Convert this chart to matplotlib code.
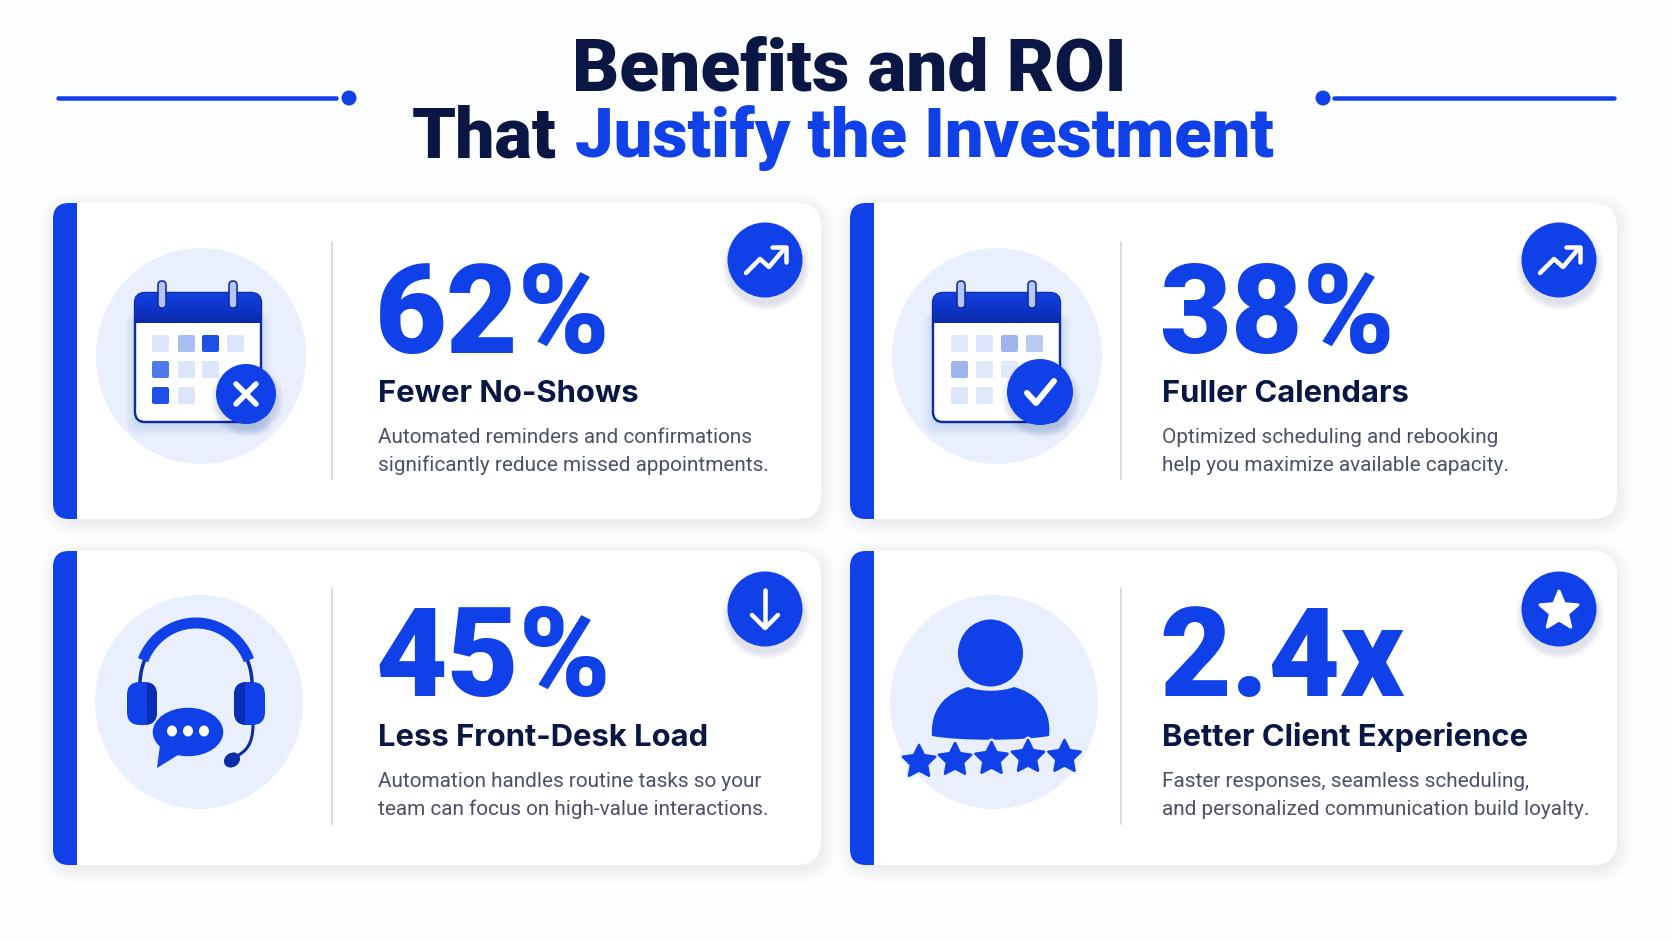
import numpy as np
import matplotlib
matplotlib.use('Agg')
import matplotlib.pyplot as plt
from matplotlib.patches import FancyBboxPatch, Circle, Ellipse, Rectangle, Polygon, PathPatch
from matplotlib.path import Path
from matplotlib.colors import LinearSegmentedColormap

plt.rcParams['font.family'] = ['Inter', 'DejaVu Sans']

# text content
title_line1 = 'Benefits and ROI'
title_line2a = 'That'
title_line2b = 'Justify the Investment'
stat_values = ['62%', '38%', '45%', '2.4x']
stat_titles = ['Fewer No-Shows', 'Fuller Calendars', 'Less Front-Desk Load', 'Better Client Experience']
stat_lines1 = ['Automated reminders and confirmations', 'Optimized scheduling and rebooking',
               'Automation handles routine tasks so your', 'Faster responses, seamless scheduling,']
stat_lines2 = ['significantly reduce missed appointments.', 'help you maximize available capacity.',
               'team can focus on high-value interactions.', 'and personalized communication build loyalty.']

BLUE = '#0F40E8'
DARK = '#0A1744'
GREY = '#4B5264'
PALE = '#E9EFFC'
BG = '#FDFEFF'

W, H = 1672, 941
fig = plt.figure(figsize=(W / 100, H / 100), dpi=100, facecolor=BG)
ax = fig.add_axes([0, 0, 1, 1])
ax.set_xlim(0, W)
ax.set_ylim(H, 0)
ax.axis('off')

head_cmap = LinearSegmentedColormap.from_list('head', ['#1240DC', '#0F36CC', '#0A29A8'])


def px(v):
    # pixels to points
    return v * 0.72


def rbox(x0, y0, x1, y1, r, **kw):
    p = FancyBboxPatch((x0, y0), x1 - x0, y1 - y0, boxstyle='round,pad=0,rounding_size=%g' % r, **kw)
    ax.add_patch(p)
    return p


def star_pts(cx, cy, r, ratio=0.45):
    ang = -np.pi / 2 + np.arange(10) * np.pi / 5
    rad = np.where(np.arange(10) % 2 == 0, r, r * ratio)
    return np.column_stack([cx + rad * np.cos(ang), cy + rad * np.sin(ang)])


def icon_line(pts, lw=4.5, color='white', z=6):
    pts = np.array(pts, dtype=float)
    ax.plot(pts[:, 0], pts[:, 1], color=color, lw=px(lw), solid_capstyle='round',
            solid_joinstyle='round', zorder=z)


def card(x0, y0, x1, y1, bar_w):
    for i in range(16, 0, -1):
        rbox(x0 - i + 2, y0 - i + 5, x1 + i, y1 + i + 3, 24 + i, fc='#33436F', ec='none', alpha=0.004, zorder=1)
    rbox(x0, y0, x1, y1, 24, fc='white', ec='none', zorder=2)
    bar = rbox(x0, y0, x0 + 60, y1, 16, fc=BLUE, ec='none', zorder=3)
    bar.set_clip_path(Rectangle((x0, y0 - 2), bar_w, y1 - y0 + 4, transform=ax.transData))


def badge(cx, cy, r=37.5, z=4):
    for i in range(10, 0, -1):
        ax.add_patch(Circle((cx + 1, cy + 6), r + i * 0.7, fc='#0B2270', ec='none', alpha=0.013, zorder=z))
    ax.add_patch(Circle((cx, cy), r, fc=BLUE, ec='none', zorder=z + 0.5))


def trend_icon(cx, cy):
    icon_line([(cx - 19, cy + 13), (cx - 5, cy - 1), (cx + 4, cy + 7), (cx + 20, cy - 12)])
    icon_line([(cx + 7, cy - 13), (cx + 21, cy - 13), (cx + 21, cy + 2)])


def calendar(x0, x1, y0, y1, head_y, ring_x, col_x, row_y, cell_cols):
    for i in range(12, 0, -1):
        rbox(x0 - i + 2, y0 + 20, x1 + i - 2, y1 + i + 2, 12, fc='#2A50D8', ec='none', alpha=0.012, zorder=3)
    rbox(x0, y0, x1, y1, 10, fc='white', ec='#0E2BA0', lw=px(2.4), zorder=4)
    # header fades darker towards its lower edge
    outline = rbox(x0, y0, x1, y1, 10, fc='none', ec='none', zorder=4)
    for s in range(head_y - y0):
        strip = Rectangle((x0, y0 + s), x1 - x0, 1.5, fc=head_cmap(s / (head_y - y0 - 1)), ec='none', zorder=4.1)
        ax.add_patch(strip)
        strip.set_clip_path(outline)
    for rx in ring_x:
        rbox(rx - 4, y0 - 12, rx + 4, y0 + 15, 4, fc='#B6C6F2', ec='#0E2BA0', lw=px(1.6), zorder=4.4)
    for j, row in enumerate(cell_cols):
        for i, c in enumerate(row):
            rbox(col_x[i], row_y[j], col_x[i] + 17, row_y[j] + 17, 2, fc=c, ec='none', zorder=4.3)


# title
ax.text(849, 90, title_line1, fontsize=px(73), family='Roboto', fontweight=900, color=DARK, ha='center', va='baseline', zorder=5)
ax.text(412, 157, title_line2a, fontsize=px(70), family='Roboto', fontweight=900, color=DARK, ha='left', va='baseline', zorder=5)
ax.text(575, 157, title_line2b, fontsize=px(68.7), family='Roboto', fontweight=900, color=BLUE, ha='left', va='baseline', zorder=5)
ax.plot([58, 336], [98, 98], color=BLUE, lw=px(4.5), solid_capstyle='round', zorder=5)
ax.plot([1334, 1614], [98, 98], color=BLUE, lw=px(4.5), solid_capstyle='round', zorder=5)
ax.add_patch(Circle((349, 98), 7.5, fc=BLUE, ec='none', zorder=5))
ax.add_patch(Circle((1323, 98), 7.5, fc=BLUE, ec='none', zorder=5))

# cards
frames = [(53, 203, 821, 519), (850, 203, 1617, 519), (53, 551, 821, 865), (850, 551, 1617, 865)]
text_x = [378, 1162, 378, 1162]
div_x = [332, 1121, 332, 1121]
div_y = [(242, 479), (242, 479), (589, 824), (589, 824)]
circ = [(201, 356, 105, 108), (997, 356, 105, 108), (199, 702, 104, 107), (994, 702, 104, 107)]
badge_c = [(765, 260), (1559, 260), (765, 609), (1559, 609)]
big_y = [353, 353, 696, 696]
head_y = [402, 402, 746, 746]
body_y = [(443, 471), (443, 471), (787, 815), (787, 815)]

for k in range(4):
    x0, y0, x1, y1 = frames[k]
    card(x0, y0, x1, y1, 24)
    ax.plot([div_x[k]] * 2, div_y[k], color='#CFD2D8', lw=px(1.6), zorder=3)
    ax.add_patch(Ellipse(circ[k][:2], circ[k][2] * 2, circ[k][3] * 2, fc=PALE, ec='none', zorder=3))
    badge(*badge_c[k])
    ax.text(text_x[k] - 3, big_y[k], stat_values[k], fontsize=px(124), family='Roboto', fontweight=900, color=BLUE, va='baseline', zorder=5)
    ax.text(text_x[k], head_y[k], stat_titles[k], fontsize=px(31), fontweight='bold', color=DARK, va='baseline', zorder=5)
    ax.text(text_x[k], body_y[k][0], stat_lines1[k], fontsize=px(20.8), family='Roboto', color=GREY, va='baseline', zorder=5)
    ax.text(text_x[k], body_y[k][1], stat_lines2[k], fontsize=px(20.8), family='Roboto', color=GREY, va='baseline', zorder=5)

# badge glyphs
trend_icon(765, 260)
trend_icon(1559, 260)
icon_line([(765, 590), (765, 627)])
icon_line([(752, 615), (765, 628), (778, 615)])
ax.add_patch(Polygon(star_pts(1559, 611, 20), fc='white', ec='white', lw=px(3), joinstyle='round', zorder=6))

# calendar with cross
c1 = '#DCE5FA'
calendar(135, 261, 293, 422, 322, [162, 233], [152, 178, 202, 227], [335, 361, 387],
         [[c1, '#A9BDF0', '#1F4FE6', c1], ['#4F78EC', c1, c1], ['#1F4FE6', c1]])
badge(246, 394, 30, z=5)
icon_line([(236, 384), (256, 404)], lw=5.5, z=7)
icon_line([(256, 384), (236, 404)], lw=5.5, z=7)

# calendar with check
c2 = '#E1E8FB'
calendar(933, 1060, 293, 422, 322, [961, 1032], [951, 976, 1001, 1026], [335, 361, 387],
         [[c2, c1, '#A0B5EE', '#BACAF3'], ['#A0B5EE', c2, c2], [c1, c2]])
badge(1040, 392, 33, z=5)
icon_line([(1027, 393), (1036, 403), (1054, 381)], lw=6, z=7)

# headset
t = np.linspace(np.pi, 2 * np.pi, 60)
ax.plot(196 + 56 * np.cos(t), 684 + 60 * np.sin(t), color='#0B2CA8', lw=px(3.5), solid_capstyle='butt', zorder=4)
t2 = np.linspace(np.pi + 0.38, 2 * np.pi - 0.38, 60)
ax.plot(196 + 57 * np.cos(t2), 682 + 59 * np.sin(t2), color=BLUE, lw=px(11), solid_capstyle='butt', zorder=4.1)
cup_l = rbox(127, 682, 157, 725, 13, fc=BLUE, ec='none', zorder=4.2)
dark_l = Rectangle((147, 680), 12, 47, fc='#0B2CB4', ec='none', zorder=4.3)
ax.add_patch(dark_l)
dark_l.set_clip_path(cup_l)
cup_r = rbox(234, 682, 265, 725, 13, fc=BLUE, ec='none', zorder=4.2)
dark_r = Rectangle((232, 680), 13, 47, fc='#0B2CB4', ec='none', zorder=4.3)
ax.add_patch(dark_r)
dark_r.set_clip_path(cup_r)
mic = Path([(253, 724), (253, 745), (246, 752), (233, 758)], [Path.MOVETO, Path.CURVE4, Path.CURVE4, Path.CURVE4])
ax.add_patch(PathPatch(mic, fc='none', ec='#0B2CA8', lw=px(3), zorder=4))
ax.add_patch(Ellipse((232, 760), 17, 14, angle=-35, fc='#0B2CA8', ec='none', zorder=4.2))
ax.add_patch(Ellipse((188, 732), 72, 50, fc=BLUE, ec=PALE, lw=px(1.5), zorder=4.5))
ax.add_patch(Polygon([(160, 745), (157, 768), (178, 755)], fc=BLUE, ec='none', zorder=4.5))
for dx in (-16, 0, 16):
    ax.add_patch(Ellipse((188 + dx, 731), 10, 11, fc='white', ec='none', zorder=5))

# person with stars
ax.add_patch(Ellipse((990.5, 653), 65, 67, fc=BLUE, ec='none', zorder=4))
body = Path([(932, 736), (930, 705), (950, 692), (968, 687), (980, 692), (1002, 692), (1014, 687),
             (1032, 692), (1052, 705), (1049, 736), (1020, 741), (960, 741), (932, 736), (932, 736)],
            [Path.MOVETO] + [Path.CURVE4] * 12 + [Path.CLOSEPOLY])
ax.add_patch(PathPatch(body, fc=BLUE, ec='none', zorder=4))
star_x = [919, 955, 991.5, 1028, 1064.5]
star_y = [762, 760, 759, 757, 757]
for sx, sy in zip(star_x, star_y):
    ax.add_patch(Polygon(star_pts(sx, sy, 17, 0.5), fc=PALE, ec=PALE, lw=px(7), joinstyle='round', zorder=4.8))
    ax.add_patch(Polygon(star_pts(sx, sy, 17, 0.5), fc=BLUE, ec=BLUE, lw=px(2.5), joinstyle='round', zorder=5))

fig.savefig('out.png', dpi=100, facecolor=fig.get_facecolor())
